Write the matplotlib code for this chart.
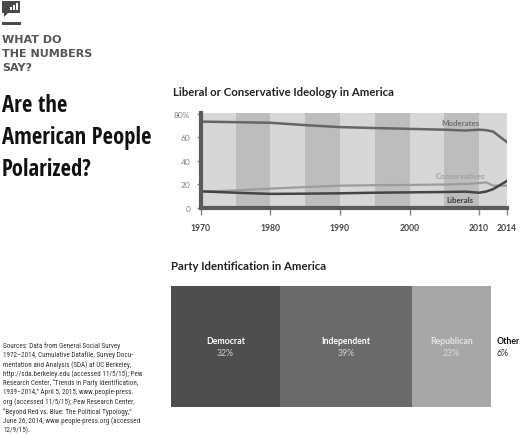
import os
import matplotlib
matplotlib.use('Agg')
import matplotlib.pyplot as plt
from matplotlib import font_manager
from matplotlib.patches import Rectangle, Polygon
import numpy as np

# ideology shares (%)
years = [1970, 1975, 1980, 1985, 1990, 1995, 2000, 2005, 2008, 2010, 2011, 2012, 2014]
moderates = [73.5, 73.0, 72.5, 70.5, 68.8, 68.0, 67.3, 66.6, 65.9, 66.6, 66.2, 65.0, 56.0]
conservatives = [13.8, 15.0, 16.5, 17.8, 19.0, 19.4, 19.6, 20.0, 20.4, 21.2, 21.8, 19.0, 19.0]
liberals = [14.2, 13.0, 12.0, 12.2, 12.5, 13.0, 13.3, 13.6, 13.9, 13.0, 14.0, 16.0, 23.0]

x_ticks = [1970, 1980, 1990, 2000, 2010, 2014]
y_ticks = [0, 20, 40, 60, 80]
y_labels = ['0', '20', '40', '60', '80%']

# party identification (%)
parties = ['Democrat', 'Independent', 'Republican', 'Other']
shares = [32, 39, 23, 6]

kicker = ['WHAT DO', 'THE NUMBERS', 'SAY?']
headline = ['Are the', 'American People', 'Polarized?']
sources = ["Sources: Data from General Social Survey",
           "1972\u20132014, Cumulative Datafile, Survey Docu-",
           "mentation and Analysis (SDA) at UC Berkeley,",
           "http://sda.berkeley.edu (accessed 11/5/15); Pew",
           "Research Center, \u201cTrends in Party Identification,",
           "1939\u20132014,\u201d April 5, 2015, www.people-press.",
           "org (accessed 11/5/15); Pew Research Center,",
           "\u201cBeyond Red vs. Blue: The Political Typology,\u201d",
           "June 26, 2014, www.people-press.org (accessed",
           "12/9/15)."]

plt.rcParams['font.family'] = ['Lato', 'DejaVu Sans']

W, H = 531, 435
fig = plt.figure(figsize=(W / 100, H / 100), dpi=100)
r = fig.canvas.get_renderer()


def px(x, y):
    return x / W, 1 - y / H


def weight_of(f):
    try:
        return int(f.weight)
    except (TypeError, ValueError):
        return {'bold': 700, 'heavy': 800, 'extra bold': 800, 'black': 900}.get(str(f.weight), 400)


def narrowest(sample, bold):
    # pick the narrowest installed sans face for the sample text
    fams = ('Noto Sans', 'Liberation Sans', 'DejaVu Sans', 'Roboto', 'Open Sans', 'Lato', 'Inter')
    best, best_w = None, None
    for f in font_manager.fontManager.ttflist:
        fam = f.name
        base = os.path.basename(f.fname)
        if not fam.startswith(fams) or 'Mono' in fam or 'CJK' in fam or 'Mono' in base or 'CJK' in base:
            continue
        if fam.startswith('Noto Sans') and fam != 'Noto Sans' and not any(k in fam for k in ('Cond', 'Narrow')):
            continue
        if f.style != 'normal':
            continue
        w = weight_of(f)
        if bold and w < 700:
            continue
        if not bold and not (350 <= w <= 500):
            continue
        try:
            prop = font_manager.FontProperties(fname=f.fname, size=20)
            tw = r.get_text_width_height_descent(sample, prop, ismath=False)[0]
        except Exception:
            continue
        if best_w is None or tw < best_w:
            best, best_w = f.fname, tw
    if best is None:
        return font_manager.FontProperties(family='DejaVu Sans', weight='bold' if bold else 'normal'), None
    return font_manager.FontProperties(fname=best), best_w


# ---- icon + kicker ----
fig.patches.append(Rectangle(px(2, 13.5), 18 / W, 11.5 / H, transform=fig.transFigure,
                             color='#4a4a4a', lw=0))
fig.patches.append(Polygon([px(4, 13), px(9, 13), px(4, 18)], closed=True,
                           transform=fig.transFigure, color='#4a4a4a', lw=0))
for bx, bh in [(10, 3), (13, 5), (16, 7)]:
    fig.patches.append(Rectangle(px(bx, 11), 2 / W, bh / H, transform=fig.transFigure,
                                 color='white', lw=0))
fig.patches.append(Rectangle(px(2, 25.5), 19 / W, 2.2 / H, transform=fig.transFigure,
                             color='#4a4a4a', lw=0))

for i, line in enumerate(kicker):
    fig.text(*px(2, 43 + 14 * i), line, fontsize=8, fontweight='bold', family='DejaVu Sans',
             color='#555555', va='baseline', ha='left')

# ---- headline, sized to the reference width ----
hfont, hw = narrowest('American People', True)
hsize = 20 * 149 / hw if hw else 16
for line, base in zip(headline, [111.7, 144.5, 176.5]):
    fig.text(*px(2, base), line, fontproperties=hfont, fontsize=hsize, color='#111111',
             va='baseline', ha='left')

sfont, sw = narrowest(sources[4], False)
ssize = 20 * 133 / sw if sw else 4.2
for i, line in enumerate(sources):
    fig.text(*px(3, 345.7 + 9.45 * i), line, fontproperties=sfont, fontsize=ssize,
             color='#333333', va='center', ha='left')

# ---- line chart ----
ax = fig.add_axes([200.7 / W, 1 - 209 / H, 306.3 / W, 95 / H])
ax.set_xlim(1970, 2014)
ax.set_ylim(0, 80.8)
edges = [1970, 1975, 1980, 1985, 1990, 1995, 2000, 2005, 2010, 2014]
for i in range(len(edges) - 1):
    ax.axvspan(edges[i], edges[i + 1], color='#d7d7d7' if i % 2 == 0 else '#bdbdbd', lw=0, zorder=0)

ax.plot(years, moderates, color='#666666', lw=1.8, zorder=3)
ax.plot(years, conservatives, color='#9c9c9c', lw=1.6, zorder=3)
ax.plot(years, liberals, color='#454545', lw=1.8, zorder=4)

ax.text(2007.3, 73, 'Moderates', fontsize=5.7, fontweight='bold', color='#707070', ha='center', va='center')
ax.text(2007.3, 27.5, 'Conservatives', fontsize=5.7, fontweight='bold', color='#a0a0a0', ha='center', va='center')
ax.text(2007.3, 7.5, 'Liberals', fontsize=5.7, fontweight='bold', color='#3a3a3a', ha='center', va='center')

for s in ['top', 'right']:
    ax.spines[s].set_visible(False)
for s in ['left', 'bottom']:
    ax.spines[s].set_linewidth(3)
    ax.spines[s].set_color('#5a5a5a')
    ax.spines[s].set_zorder(5)

ax.set_xticks(x_ticks)
ax.set_xticklabels([str(t) for t in x_ticks], fontsize=6.2, fontweight='bold', color='#444444')
ax.set_yticks(y_ticks)
ax.set_yticklabels(y_labels, fontsize=6, color='#808080')
ax.tick_params(axis='x', length=5, width=1, color='#888888', pad=5.5)
ax.tick_params(axis='y', length=3, width=1, color='#888888', pad=4.5)

fig.text(*px(173, 92), 'Liberal or Conservative Ideology in America', fontsize=8.2, fontweight='bold',
         color='#222222', va='center', ha='left')

# ---- party bar ----
ax2 = fig.add_axes([171 / W, 1 - 408 / H, 340 / W, 121 / H])
ax2.set_xlim(0, 100)
ax2.set_ylim(-0.5, 0.5)
ax2.axis('off')
bar_colors = ['#4e4e4e', '#6a6a6a', '#a7a7a7', 'white']
name_colors = ['white', 'white', '#e4e4e4', '#111111']
pct_colors = ['#d0d0d0', '#d0d0d0', '#d8d8d8', '#333333']
left = np.concatenate([[0], np.cumsum(shares)[:-1]])
ax2.barh(0, shares, left=left, height=1, color=bar_colors, lw=0)
for i, (p, v) in enumerate(zip(parties, shares)):
    if p == 'Other':
        xx, ha = left[i] + 1.8, 'left'
    else:
        xx, ha = left[i] + v / 2, 'center'
    ax2.text(xx, 0.05, p, fontsize=6.3, fontweight='bold', color=name_colors[i], ha=ha, va='center')
    ax2.text(xx, -0.05, f'{v}%', fontsize=6.3, color=pct_colors[i], ha=ha, va='center')

fig.text(*px(171, 267), 'Party Identification in America', fontsize=8.2, fontweight='bold',
         color='#222222', va='center', ha='left')

fig.savefig('out.png', dpi=100)
